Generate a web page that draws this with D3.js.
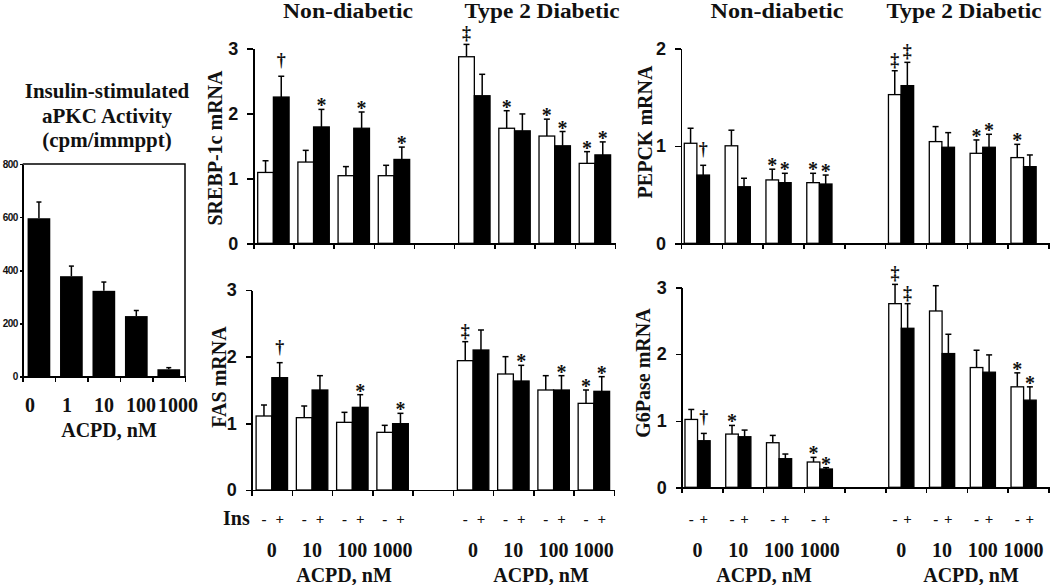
<!DOCTYPE html>
<html>
<head>
<meta charset="utf-8">
<script src="https://cdn.jsdelivr.net/npm/d3@7"></script>
<style>
    body { margin: 0; background: #fff; }
    svg text { font-family: "Liberation Serif", "Times New Roman", serif; font-weight: bold; fill: #111; }
    .axis path, .axis line { stroke: #000; stroke-width: 1.5; shape-rendering: crispEdges; }
    .axis text { font-family: "Liberation Sans", Arial, sans-serif; font-size: 18px; }
    .axis.small text { font-size: 10px; letter-spacing: -0.6px; }
</style>
</head>
<body>
<svg id="chart" width="1050" height="585"></svg>
<script>
// ---- data ----
var groups = ["Non-diabetic", "Type 2 Diabetic"];
var doses = ["0", "10", "100", "1000"];
var insLabels = ["-", "+"];

var apkcTitle = ["Insulin-stimulated", "aPKC Activity", "(cpm/immppt)"];
var apkcDoses = ["0", "1", "10", "100", "1000"];
var apkcMean = [596, 378, 323, 228, 28];
var apkcSem = [61, 38, 33, 21, 6];
var apkcTicks = [0, 200, 400, 600, 800];

// 8 entries: 4 non-diabetic doses, then 4 diabetic doses
var srebpBasal = [1.09, 1.25, 1.04, 1.04, 2.87, 1.77, 1.65, 1.23];
var srebpBasalSem = [0.18, 0.18, 0.14, 0.16, 0.19, 0.27, 0.26, 0.18];
var srebpIns = [2.25, 1.79, 1.77, 1.29, 2.27, 1.73, 1.50, 1.36];
var srebpInsSem = [0.32, 0.27, 0.25, 0.19, 0.33, 0.26, 0.22, 0.20];
var srebpBasalMark = ["", "", "", "", "‡", "*", "*", "*"];
var srebpInsMark = ["†", "*", "*", "*", "", "", "*", "*"];

var fasBasal = [1.11, 1.085, 1.015, 0.865, 1.94, 1.74, 1.50, 1.30];
var fasBasalSem = [0.165, 0.175, 0.15, 0.105, 0.285, 0.26, 0.215, 0.20];
var fasIns = [1.685, 1.50, 1.24, 0.995, 2.10, 1.635, 1.50, 1.48];
var fasInsSem = [0.225, 0.215, 0.19, 0.155, 0.30, 0.235, 0.215, 0.22];
var fasBasalMark = ["", "", "", "", "‡", "", "", "*"];
var fasInsMark = ["†", "", "*", "*", "", "*", "*", "*"];

var pepckBasal = [1.026, 1.0, 0.65, 0.622, 1.525, 1.043, 0.923, 0.879];
var pepckBasalSem = [0.154, 0.16, 0.11, 0.096, 0.245, 0.154, 0.137, 0.136];
var pepckIns = [0.70, 0.58, 0.622, 0.608, 1.617, 0.985, 0.985, 0.786];
var pepckInsSem = [0.10, 0.087, 0.096, 0.092, 0.239, 0.15, 0.133, 0.12];
var pepckBasalMark = ["", "", "*", "*", "‡", "", "*", "*"];
var pepckInsMark = ["†", "", "*", "*", "‡", "", "*", ""];

var g6pBasal = [1.02, 0.80, 0.67, 0.38, 2.76, 2.65, 1.80, 1.51];
var g6pBasalSem = [0.15, 0.13, 0.11, 0.07, 0.29, 0.38, 0.26, 0.21];
var g6pIns = [0.70, 0.76, 0.43, 0.275, 2.39, 2.01, 1.73, 1.31];
var g6pInsSem = [0.11, 0.10, 0.07, 0.02, 0.37, 0.29, 0.26, 0.20];
var g6pBasalMark = ["", "*", "", "*", "‡", "", "", "*"];
var g6pInsMark = ["†", "", "", "*", "‡", "", "", "*"];

var svg = d3.select("#chart");

// mark offsets (baseline relative to the error bar top)
var markDy = {"*": 3, "†": -10, "‡": -5};

function errBar(g, cx, yBar, yTop, half) {
    g.append("line").attr("x1", cx).attr("x2", cx).attr("y1", yBar).attr("y2", yTop)
        .attr("stroke", "#000").attr("stroke-width", 1.5);
    g.append("line").attr("x1", cx - half).attr("x2", cx + half).attr("y1", yTop).attr("y2", yTop)
        .attr("stroke", "#000").attr("stroke-width", 1.5);
}

// ---- left panel: aPKC activity ----
(function () {
    var g = svg.append("g");
    var x = d3.scaleBand().domain(apkcDoses).range([22.7, 185]).paddingInner(0.3).paddingOuter(0.15);
    var xl = d3.scalePoint().domain(apkcDoses).range([30, 178]);
    var y = d3.scaleLinear().domain([0, 800]).range([376.7, 164]);

    apkcTitle.forEach(function (t, i) {
        g.append("text").attr("x", 107).attr("y", 98 + i * 24.5)
            .attr("text-anchor", "middle").style("font-size", "21px").text(t);
    });

    apkcDoses.forEach(function (d, i) {
        errBar(g, x(d) + x.bandwidth() / 2, y(apkcMean[i]), y(apkcMean[i] + apkcSem[i]), 2.5);
    });
    g.selectAll("rect.bar").data(apkcDoses).enter().append("rect")
        .attr("x", function (d) { return x(d); })
        .attr("y", function (d, i) { return y(apkcMean[i]); })
        .attr("width", x.bandwidth())
        .attr("height", function (d, i) { return y(0) - y(apkcMean[i]); })
        .attr("fill", "#000");

    // frame
    g.append("path").attr("d", "M22.7," + y(800) + "H185V" + y(0))
        .attr("fill", "none").attr("stroke", "#000").attr("stroke-width", 1.5);

    g.append("g").attr("class", "axis small").attr("transform", "translate(22.7,0)")
        .call(d3.axisLeft(y).tickValues(apkcTicks).tickSize(3).tickPadding(2).tickSizeOuter(0));

    var xs = d3.scaleLinear().domain([0, 5]).range([22.7, 185]);
    g.append("g").attr("class", "axis").attr("transform", "translate(0," + y(0) + ")")
        .call(d3.axisBottom(xs).tickValues(d3.range(6)).tickSize(5).tickSizeOuter(0).tickFormat(""));

    apkcDoses.forEach(function (d) {
        g.append("text").attr("x", xl(d)).attr("y", 412)
            .attr("text-anchor", "middle").style("font-size", "20px").text(d);
    });
    g.append("text").attr("x", 109).attr("y", 437).attr("text-anchor", "middle")
        .style("font-size", "20px").text("ACPD, nM");
})();

// ---- grouped panels ----
function drawPanel(cfg) {
    var g = svg.append("g");
    var x = d3.scaleLinear().domain([0, 9]).range([cfg.x0, cfg.x1]);
    var y = d3.scaleLinear().domain([0, cfg.yMax]).range([cfg.yBottom, cfg.yTop]);
    var step = x(1) - x(0);
    var inner = d3.scaleBand().domain(["basal", "ins"]).range([0, step])
        .paddingInner(0).paddingOuter(cfg.pad).align(cfg.align);

    var rows = [];
    cfg.basal.forEach(function (v, i) {
        var slot = i < 4 ? i : i + 1;
        rows.push({slot: slot, kind: "basal", mean: v, sem: cfg.basalSem[i], mark: cfg.basalMark[i]});
        rows.push({slot: slot, kind: "ins", mean: cfg.ins[i], sem: cfg.insSem[i], mark: cfg.insMark[i]});
    });
    var bx = function (d) { return x(d.slot) + inner(d.kind); };
    var bw = inner.bandwidth();

    rows.forEach(function (d) {
        errBar(g, bx(d) + bw / 2, y(d.mean), y(d.mean + d.sem), 3);
    });
    g.selectAll("rect.bar").data(rows).enter().append("rect")
        .attr("x", bx)
        .attr("y", function (d) { return y(d.mean); })
        .attr("width", bw)
        .attr("height", function (d) { return y(0) - y(d.mean); })
        .attr("fill", function (d) { return d.kind === "basal" ? "#fff" : "#000"; })
        .attr("stroke", "#000").attr("stroke-width", 1.3);

    rows.filter(function (d) { return d.mark; }).forEach(function (d) {
        g.append("text").attr("x", bx(d) + bw / 2).attr("y", y(d.mean + d.sem) + markDy[d.mark])
            .attr("text-anchor", "middle").style("font-size", d.mark === "*" ? "20px" : "18px")
            .text(d.mark);
    });

    g.append("g").attr("class", "axis").attr("transform", "translate(" + cfg.x0 + ",0)")
        .call(d3.axisLeft(y).ticks(cfg.yMax).tickFormat(d3.format("d")).tickSize(6).tickPadding(9).tickSizeOuter(0));
    g.append("g").attr("class", "axis").attr("transform", "translate(0," + cfg.yBottom + ")")
        .call(d3.axisBottom(x).tickValues(d3.range(10)).tickSize(6).tickSizeOuter(0).tickFormat(""));

    g.append("text")
        .attr("transform", "translate(" + cfg.labelX + "," + cfg.labelY + ") rotate(-90)")
        .attr("text-anchor", "middle").style("font-size", "20px").text(cfg.label);

    if (cfg.headings) {
        groups.forEach(function (t, i) {
            g.append("text").attr("x", cfg.headings[i]).attr("y", 18)
                .attr("text-anchor", "middle").style("font-size", "20px")
                .attr("textLength", cfg.headingW[i]).attr("lengthAdjust", "spacingAndGlyphs")
                .text(t);
        });
    }

    if (cfg.bottom) {
        if (cfg.insLabel) {
            g.append("text").attr("x", cfg.x0 - 2).attr("y", 525).attr("text-anchor", "end")
                .style("font-size", "20px").text("Ins");
        }
        [0, 1].forEach(function (gi) {
            doses.forEach(function (dose, di) {
                var slot = gi * 5 + di;
                ["basal", "ins"].forEach(function (k, ki) {
                    g.append("text").attr("x", x(slot) + inner(k) + bw / 2).attr("y", 524)
                        .attr("text-anchor", "middle").style("font-size", "15px").text(insLabels[ki]);
                });
                g.append("text").attr("x", x(slot) + inner("ins")).attr("y", 557)
                    .attr("text-anchor", "middle").style("font-size", "20px").text(dose);
            });
            g.append("text").attr("x", cfg.acpdX[gi]).attr("y", 582)
                .attr("text-anchor", "middle").style("font-size", "20px").text("ACPD, nM");
        });
    }
}

drawPanel({
    x0: 253.3, x1: 615, yBottom: 243.3, yTop: 48.3, yMax: 3, pad: 0.28, align: 0.5,
    basal: srebpBasal, basalSem: srebpBasalSem, ins: srebpIns, insSem: srebpInsSem,
    basalMark: srebpBasalMark, insMark: srebpInsMark,
    label: "SREBP-1c mRNA", labelX: 222, labelY: 148,
    headings: [348, 542], headingW: [130, 155]
});
drawPanel({
    x0: 251.7, x1: 614, yBottom: 490, yTop: 290, yMax: 3, pad: 0.28, align: 0.5,
    basal: fasBasal, basalSem: fasBasalSem, ins: fasIns, insSem: fasInsSem,
    basalMark: fasBasalMark, insMark: fasInsMark,
    label: "FAS mRNA", labelX: 226, labelY: 377,
    bottom: true, insLabel: true, acpdX: [344, 541]
});
drawPanel({
    x0: 681, x1: 1048.5, yBottom: 243.3, yTop: 48.3, yMax: 2, pad: 0.62, align: 0.21,
    basal: pepckBasal, basalSem: pepckBasalSem, ins: pepckIns, insSem: pepckInsSem,
    basalMark: pepckBasalMark, insMark: pepckInsMark,
    label: "PEPCK mRNA", labelX: 652, labelY: 132,
    headings: [777, 964], headingW: [133, 155]
});
drawPanel({
    x0: 681.7, x1: 1048.5, yBottom: 487.3, yTop: 287.7, yMax: 3, pad: 0.62, align: 0.21,
    basal: g6pBasal, basalSem: g6pBasalSem, ins: g6pIns, insSem: g6pInsSem,
    basalMark: g6pBasalMark, insMark: g6pInsMark,
    label: "G6Pase mRNA", labelX: 650, labelY: 373,
    bottom: true, insLabel: false, acpdX: [764, 971]
});
</script>
</body>
</html>
